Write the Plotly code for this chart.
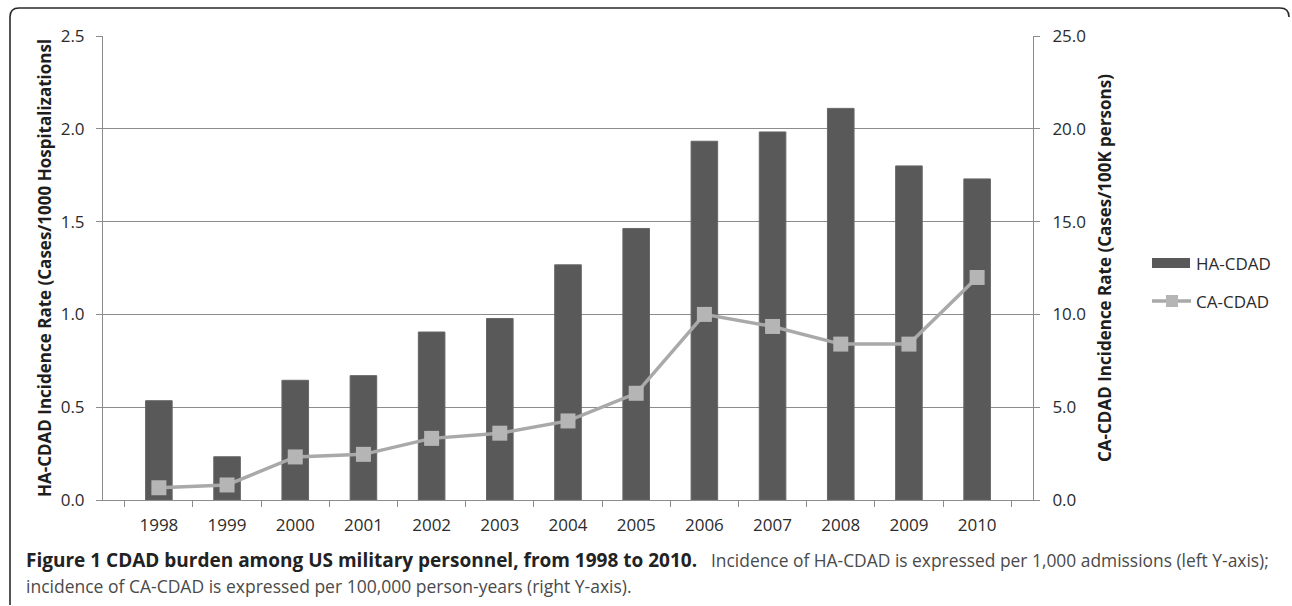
import plotly.graph_objects as go

# CDAD incidence among US military personnel
years = ["1998", "1999", "2000", "2001", "2002", "2003", "2004",
         "2005", "2006", "2007", "2008", "2009", "2010"]
ha_cdad = [0.535, 0.233, 0.645, 0.67, 0.905, 0.978, 1.267,
           1.463, 1.933, 1.983, 2.11, 1.80, 1.73]          # per 1,000 hospitalizations
ca_cdad = [0.66, 0.81, 2.32, 2.46, 3.32, 3.60, 4.26,
           5.75, 10.0, 9.35, 8.40, 8.40, 11.99]            # per 100K persons

left_ticks = [0.0, 0.5, 1.0, 1.5, 2.0, 2.5]
right_ticks = [0.0, 5.0, 10.0, 15.0, 20.0, 25.0]

W, H = 1292, 606
L, R, T, B = 103, 1033, 36, 500   # plot area in pixels


def px(x):
    return (x - L) / (R - L)


def py(y):
    return (B - y) / (B - T)


BAR_COLOR = "#595959"
LINE_COLOR = "#a9a9a9"
MARK_COLOR = "#b5b5b5"
AXIS_COLOR = "#8c8c8c"
FONT = "Open Sans"

fig = go.Figure()
fig.add_trace(go.Bar(
    x=years, y=ha_cdad, name="HA-CDAD",
    marker=dict(color=BAR_COLOR, line=dict(color="#666666", width=1)),
    yaxis="y", showlegend=False,
))
fig.add_trace(go.Scatter(
    x=years, y=ca_cdad, name="CA-CDAD", mode="lines+markers",
    line=dict(color=LINE_COLOR, width=3.5),
    marker=dict(symbol="square", size=15, color=MARK_COLOR),
    yaxis="y2", showlegend=False,
))

tick_font = dict(family=FONT, size=17, color="#2b2b2b")
title_font = dict(family=FONT, size=17, color="#1e1e1e", weight="bold")

fig.update_layout(
    width=W, height=H,
    margin=dict(l=L, r=W - R, t=T, b=H - B, pad=0),
    paper_bgcolor="white", plot_bgcolor="white",
    bargap=0.61,
    xaxis=dict(
        type="category", showgrid=False,
        showline=True, linecolor=AXIS_COLOR, linewidth=1,
        ticks="outside", tickson="boundaries", ticklen=6,
        tickcolor=AXIS_COLOR, tickfont=tick_font, ticklabelstandoff=10,
    ),
    yaxis=dict(
        range=[0, 2.5], tickvals=left_ticks,
        ticktext=[f"{v:.1f}" for v in left_ticks],
        showgrid=True, gridcolor=AXIS_COLOR, gridwidth=1,
        showline=True, linecolor=AXIS_COLOR, linewidth=1,
        ticks="outside", ticklen=6, tickcolor=AXIS_COLOR,
        tickfont=tick_font, ticklabelstandoff=8, zeroline=False,
        title=dict(text="HA-CDAD Incidence Rate (Cases/1000 Hospitalizationsl",
                   font=title_font, standoff=4),
    ),
    yaxis2=dict(
        range=[0, 25], tickvals=right_ticks,
        ticktext=[f"{v:.1f}" for v in right_ticks],
        overlaying="y", side="right", showgrid=False,
        showline=True, linecolor=AXIS_COLOR, linewidth=1,
        ticks="outside", ticklen=6, tickcolor=AXIS_COLOR,
        tickfont=tick_font, ticklabelstandoff=9, zeroline=False,
        title=dict(text="CA-CDAD Incidence Rate (Cases/100K persons)",
                   font=title_font, standoff=14),
    ),
)

# Legend drawn beside the right axis
shapes = [
    dict(type="rect", xref="paper", yref="paper",
         x0=px(1152), x1=px(1190), y0=py(268), y1=py(258),
         fillcolor=BAR_COLOR, line=dict(width=0)),
    dict(type="line", xref="paper", yref="paper",
         x0=px(1152), x1=px(1191), y0=py(301), y1=py(301),
         line=dict(color=LINE_COLOR, width=3.5)),
    dict(type="rect", xref="paper", yref="paper",
         x0=px(1166), x1=px(1178), y0=py(307), y1=py(295),
         fillcolor=MARK_COLOR, line=dict(width=0)),
]

# Rounded frame around the figure
r = 9
x0, y0, x1, y1 = 10, 8, 1289, 605
frame = (f"M {px(x0)},{py(y1)} L {px(x0)},{py(y0 + r)} "
         f"Q {px(x0)},{py(y0)} {px(x0 + r)},{py(y0)} "
         f"L {px(x1 - r)},{py(y0)} "
         f"Q {px(x1)},{py(y0)} {px(x1)},{py(y0 + r)}")
shapes.append(dict(type="path", xref="paper", yref="paper", path=frame,
                   line=dict(color="#2a2a2a", width=1.6)))
fig.update_layout(shapes=shapes)

legend_font = dict(family=FONT, size=17, color="#2b2b2b")
annotations = [
    dict(text="HA-CDAD", x=px(1195), y=py(263), xanchor="left", yanchor="middle",
         font=legend_font),
    dict(text="CA-CDAD", x=px(1195), y=py(301), xanchor="left", yanchor="middle",
         font=legend_font),
    dict(text="Figure 1 CDAD burden among US military personnel, from 1998 to 2010.",
         x=px(25), y=py(560), xanchor="left", yanchor="middle",
         font=dict(family=FONT, size=19, color="#222222", weight="bold")),
    dict(text="Incidence of HA-CDAD is expressed per 1,000 admissions (left Y-axis);",
         x=px(710), y=py(560), xanchor="left", yanchor="middle",
         font=dict(family=FONT, size=17.4, color="#4a4a4a")),
    dict(text="incidence of CA-CDAD is expressed per 100,000 person-years (right Y-axis).",
         x=px(25), y=py(586), xanchor="left", yanchor="middle",
         font=dict(family=FONT, size=17.5, color="#4a4a4a")),
]
for a in annotations:
    a.update(xref="paper", yref="paper", showarrow=False, borderpad=0)
fig.update_layout(annotations=annotations)

fig.write_html("out.html")
